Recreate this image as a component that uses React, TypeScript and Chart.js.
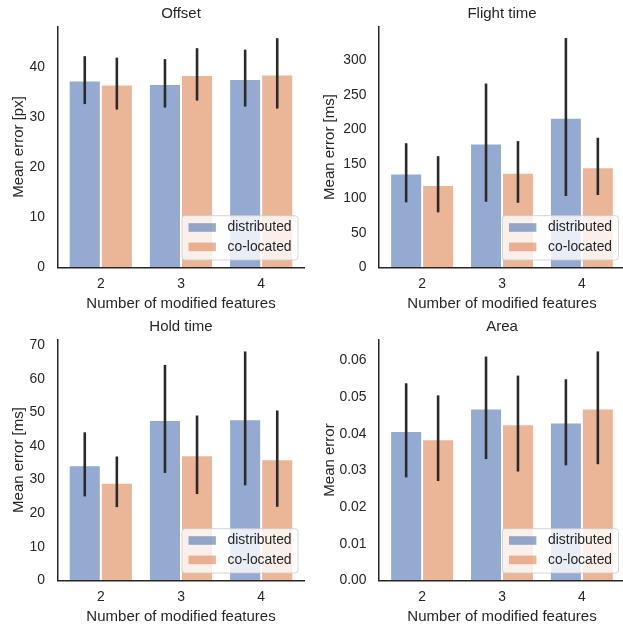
import React, { useEffect, useRef } from 'react';
import { Chart, registerables } from 'chart.js';

Chart.register(...registerables);

// ---------- data ----------
const categories = ['2', '3', '4'];
const seriesNames = ['distributed', 'co-located'];

const offsetDist = [37.4, 36.7, 37.7];
const offsetCo = [36.6, 38.5, 38.6];
const offsetDistLo = [32.7, 32.0, 32.2];
const offsetDistHi = [42.3, 41.7, 43.6];
const offsetCoLo = [31.6, 33.4, 31.8];
const offsetCoHi = [42.0, 43.9, 45.9];

const flightDist = [135.9, 179.6, 217.0];
const flightCo = [119.4, 137.3, 145.2];
const flightDistLo = [94.2, 95.1, 103.4];
const flightDistHi = [180.0, 266.5, 332.5];
const flightCoLo = [79.7, 93.6, 104.9];
const flightCoHi = [161.2, 183.0, 187.9];

const holdDist = [34.3, 47.8, 48.0];
const holdCo = [29.1, 37.3, 36.1];
const holdDistLo = [25.0, 32.0, 28.3];
const holdDistHi = [44.1, 64.2, 68.2];
const holdCoLo = [21.8, 25.7, 21.9];
const holdCoHi = [36.9, 49.1, 50.6];

const areaDist = [0.0408, 0.0469, 0.0431];
const areaCo = [0.0385, 0.0426, 0.0469];
const areaDistLo = [0.0281, 0.0331, 0.0314];
const areaDistHi = [0.0538, 0.0611, 0.0549];
const areaCoLo = [0.0271, 0.0297, 0.0317];
const areaCoHi = [0.0505, 0.0559, 0.0625];

const titles = ['Offset', 'Flight time', 'Hold time', 'Area'];
const yLabels = ['Mean error [px]', 'Mean error [ms]', 'Mean error [ms]', 'Mean error'];
const yMaxes = [48.2, 349, 71.7, 0.0657];
const offsetTicks = [0, 10, 20, 30, 40];
const flightTicks = [0, 50, 100, 150, 200, 250, 300];
const holdTicks = [0, 10, 20, 30, 40, 50, 60, 70];
const areaTicks = [0, 0.01, 0.02, 0.03, 0.04, 0.05, 0.06];
const yTickSets = [offsetTicks, flightTicks, holdTicks, areaTicks];
const yDecimals = [0, 0, 0, 2];
const xLabel = 'Number of modified features';

// ---------- style ----------
const FONT = '"Liberation Sans", Arial, Helvetica, sans-serif';
const TEXT = '#262626';
const BLUE = 'rgba(76,114,176,0.6)';
const ORANGE = 'rgba(221,132,82,0.6)';
const EDGE = 'rgba(255,255,255,0.6)';
const ERR = '#2a2a2a';
const TICK_FS = 13.9;

Chart.defaults.font.family = FONT;
Chart.defaults.color = TEXT;

const errorBarPlugin = {
  id: 'errorBars',
  afterDatasetsDraw(chart: any) {
    const { ctx } = chart;
    const yScale = chart.scales.y;
    ctx.save();
    ctx.strokeStyle = ERR;
    ctx.lineWidth = 2.6;
    ctx.lineCap = 'butt';
    chart.data.datasets.forEach((ds: any, di: number) => {
      const meta = chart.getDatasetMeta(di);
      meta.data.forEach((el: any, i: number) => {
        const yLo = yScale.getPixelForValue(ds.errLo[i]);
        const yHi = yScale.getPixelForValue(ds.errHi[i]);
        ctx.beginPath();
        ctx.moveTo(el.x, yLo);
        ctx.lineTo(el.x, yHi);
        ctx.stroke();
      });
    });
    ctx.restore();
  },
};

const boxLegendPlugin = {
  id: 'boxLegend',
  afterDraw(chart: any) {
    const { ctx, chartArea } = chart;
    ctx.save();
    ctx.font = `${TICK_FS}px ${FONT}`;
    const labels = chart.data.datasets.map((d: any) => d.label as string);
    const tw = Math.max(...labels.map((l: string) => ctx.measureText(l).width));
    const padL = 6.6, handleW = 27.4, gap = 11.6, padR = 6.4;
    const w = padL + handleW + gap + tw + padR;
    const h = 44.3;
    const right = chartArea.right - 6.5;
    const bottom = chartArea.bottom - 7.3;
    const x0 = right - w;
    const y0 = bottom - h;
    ctx.beginPath();
    (ctx as any).roundRect(x0, y0, w, h, 3);
    ctx.fillStyle = 'rgba(255,255,255,0.8)';
    ctx.fill();
    ctx.strokeStyle = 'rgba(204,204,204,0.8)';
    ctx.lineWidth = 1;
    ctx.stroke();
    chart.data.datasets.forEach((ds: any, i: number) => {
      const cy = y0 + 11.8 + i * 19.4;
      ctx.fillStyle = ds.backgroundColor;
      ctx.fillRect(x0 + padL, cy - 4.3, handleW, 8.6);
      ctx.fillStyle = TEXT;
      ctx.textBaseline = 'middle';
      ctx.textAlign = 'left';
      ctx.fillText(ds.label, x0 + padL + handleW + gap, cy);
    });
    ctx.restore();
  },
};

type PanelProps = {
  idx: number;
  left: number;
  top: number;
  width: number;
  yAxisWidth: number;
  padRight: number;
  dist: number[];
  co: number[];
  distLo: number[];
  distHi: number[];
  coLo: number[];
  coHi: number[];
};

function Panel(p: PanelProps) {
  const ref = useRef<HTMLCanvasElement | null>(null);
  const height = 313;
  useEffect(() => {
    if (!ref.current) return;
    const dec = yDecimals[p.idx];
    const yTicks = yTickSets[p.idx];
    const chart = new Chart(ref.current, {
      type: 'bar',
      data: {
        datasets: [
          {
            label: seriesNames[0],
            data: p.dist.map((y, i) => ({ x: i, y })),
            backgroundColor: BLUE,
            borderColor: EDGE,
            borderWidth: 1,
            categoryPercentage: 0.8,
            barPercentage: 1.0,
            errLo: p.distLo,
            errHi: p.distHi,
          } as any,
          {
            label: seriesNames[1],
            data: p.co.map((y, i) => ({ x: i, y })),
            backgroundColor: ORANGE,
            borderColor: EDGE,
            borderWidth: 1,
            categoryPercentage: 0.8,
            barPercentage: 1.0,
            errLo: p.coLo,
            errHi: p.coHi,
          } as any,
        ],
      },
      options: {
        animation: false,
        responsive: false,
        maintainAspectRatio: false,
        layout: { padding: { left: 0, top: 0, right: p.padRight, bottom: 0 } },
        plugins: {
          legend: { display: false },
          tooltip: { enabled: false },
          title: {
            display: true,
            text: titles[p.idx],
            fullSize: false,
            color: TEXT,
            font: { size: 15, weight: 'normal' as any, family: FONT },
            padding: { top: 5, bottom: 3.7 },
          },
        },
        scales: {
          x: {
            type: 'linear',
            min: -0.54,
            max: 2.54,
            offset: false,
            z: 1,
            grid: { display: false, drawTicks: false, offset: false },
            border: { display: true, color: TEXT, width: 1.5 },
            afterBuildTicks: (s: any) => {
              s.ticks = categories.map((_, i) => ({ value: i }));
            },
            ticks: {
              padding: 8.5,
              color: TEXT,
              font: { size: TICK_FS, family: FONT },
              autoSkip: false,
              callback: (v: any) => categories[Math.round(Number(v))] ?? '',
            },
            title: {
              display: true,
              text: xLabel,
              color: TEXT,
              font: { size: 15, family: FONT },
              padding: { top: 0, bottom: 0 },
            },
            afterFit: (s: any) => {
              s.height = 45.7;
            },
          } as any,
          y: {
            type: 'linear',
            min: 0,
            max: yMaxes[p.idx],
            z: 1,
            grid: { display: false, drawTicks: false },
            border: { display: true, color: TEXT, width: 1.5 },
            afterBuildTicks: (s: any) => {
              s.ticks = yTicks.map((v) => ({ value: v }));
            },
            ticks: {
              padding: 12.5,
              color: TEXT,
              autoSkip: false,
              font: { size: TICK_FS, family: FONT },
              callback: (v: any) => Number(v).toFixed(dec),
            },
            title: {
              display: true,
              text: yLabels[p.idx],
              color: TEXT,
              font: { size: 15, family: FONT },
              padding: { top: 9.5, bottom: 0 },
            },
            afterFit: (s: any) => {
              s.width = p.yAxisWidth;
            },
          } as any,
        },
      },
      plugins: [errorBarPlugin, boxLegendPlugin],
    });
    return () => chart.destroy();
  }, []);
  return (
    <canvas
      ref={ref}
      width={p.width}
      height={height}
      style={{ position: 'absolute', left: p.left, top: p.top, width: p.width, height }}
    />
  );
}

export default function App() {
  return (
    <div
      style={{
        position: 'absolute',
        left: 0,
        top: 0,
        width: 623,
        height: 626,
        overflow: 'hidden',
        background: '#ffffff',
      }}
    >
      <Panel idx={0} left={0} top={0} width={311} yAxisWidth={57.5} padRight={6.5}
        dist={offsetDist} co={offsetCo} distLo={offsetDistLo} distHi={offsetDistHi} coLo={offsetCoLo} coHi={offsetCoHi} />
      <Panel idx={1} left={311} top={0} width={320} yAxisWidth={68} padRight={6}
        dist={flightDist} co={flightCo} distLo={flightDistLo} distHi={flightDistHi} coLo={flightCoLo} coHi={flightCoHi} />
      <Panel idx={2} left={0} top={313} width={311} yAxisWidth={57.5} padRight={6.5}
        dist={holdDist} co={holdCo} distLo={holdDistLo} distHi={holdDistHi} coLo={holdCoLo} coHi={holdCoHi} />
      <Panel idx={3} left={311} top={313} width={320} yAxisWidth={68} padRight={6}
        dist={areaDist} co={areaCo} distLo={areaDistLo} distHi={areaDistHi} coLo={areaCoLo} coHi={areaCoHi} />
    </div>
  );
}
